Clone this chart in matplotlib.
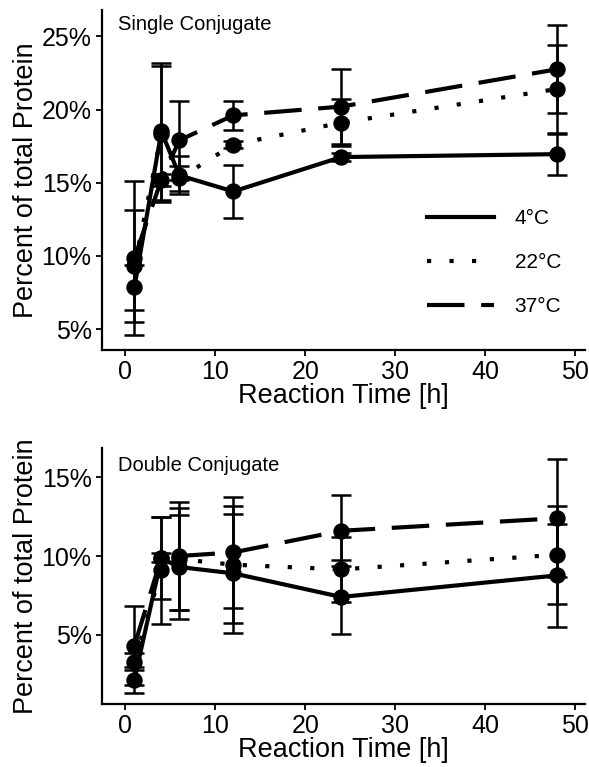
import matplotlib
matplotlib.use("Agg")
import matplotlib.pyplot as plt
from matplotlib.ticker import FuncFormatter

plt.rcParams["font.family"] = ["Liberation Sans", "DejaVu Sans"]

# reaction times (h)
time_h = [1, 4, 6, 12, 24, 48]

# single conjugate, mean and sd (% of total protein)
single_4 = [7.85, 18.5, 15.5, 14.4, 16.75, 16.95]
single_4_sd = [1.53, 4.7, 1.3, 1.8, 0.3, 1.4]
single_22 = [9.3, 18.3, 15.3, 17.6, 19.1, 21.4]
single_22_sd = [3.8, 4.65, 0.85, 0.25, 1.6, 3.0]
single_37 = [9.85, 15.2, 17.9, 19.6, 20.2, 22.75]
single_37_sd = [5.25, 0.4, 2.7, 1.0, 2.55, 3.0]

# double conjugate
double_4 = [2.15, 9.85, 9.3, 8.9, 7.4, 8.77]
double_4_sd = [0.83, 2.6, 3.3, 3.8, 2.33, 3.27]
double_22 = [3.3, 9.1, 9.8, 9.45, 9.15, 10.08]
double_22_sd = [0.55, 3.4, 3.25, 3.7, 2.07, 3.1]
double_37 = [4.3, 9.9, 10.0, 10.23, 11.6, 12.4]
double_37_sd = [2.5, 0.3, 3.45, 3.55, 2.25, 3.75]

temps = ["4°C", "22°C", "37°C"]
styles = {"4°C": "-", "22°C": (0, (1, 4.4)), "37°C": (0, (9, 4))}

fig = plt.figure(figsize=(5.89, 7.67), dpi=100)
ax1 = fig.add_axes([0.1732, 0.5437, 0.820, 0.4433])
ax2 = fig.add_axes([0.1732, 0.0821, 0.820, 0.3338])


def draw(ax, series, title, ylim, yticks):
    handles = []
    for name, (m, sd) in zip(temps, series):
        ax.errorbar(time_h, m, yerr=sd, fmt="none", ecolor="black",
                    elinewidth=1.8, capsize=7.2, capthick=1.8, zorder=2)
        ln, = ax.plot(time_h, m, color="black", lw=3, linestyle=styles[name],
                      dash_capstyle="butt", label=name, zorder=3)
        ax.plot(time_h, m, "o", color="black", ms=10.8, zorder=4)
        handles.append(ln)
    ax.set_xlim(-2.6, 51.1)
    ax.set_ylim(*ylim)
    ax.set_xticks([0, 10, 20, 30, 40, 50])
    ax.set_yticks(yticks)
    ax.yaxis.set_major_formatter(FuncFormatter(lambda v, p: f"{v:.0f}%"))
    for s in ["top", "right"]:
        ax.spines[s].set_visible(False)
    for s in ["left", "bottom"]:
        ax.spines[s].set_linewidth(1.6)
    ax.tick_params(labelsize=18, width=1.3, length=4.5, color="black", pad=3)
    ax.set_xlabel("Reaction Time [h]", fontsize=19.5, labelpad=-1)
    ax.set_ylabel("Percent of total Protein", fontsize=19.5)
    ax.yaxis.set_label_coords(-0.13, 0.5)
    ax.text(0.033, 0.985 if ax is ax1 else 0.97, title, transform=ax.transAxes,
            fontsize=14.5, ha="left", va="top")
    return handles


h = draw(ax1, [(single_4, single_4_sd), (single_22, single_22_sd),
               (single_37, single_37_sd)], "Single Conjugate",
         (3.57, 26.8), [5, 10, 15, 20, 25])
draw(ax2, [(double_4, double_4_sd), (double_22, double_22_sd),
           (double_37, double_37_sd)], "Double Conjugate",
     (0.6, 16.86), [5, 10, 15])

ax1.legend(handles=h, loc="center", bbox_to_anchor=(0.812, 0.256),
           frameon=False, fontsize=15, handlelength=3.2, handletextpad=1.0,
           labelspacing=1.2)

fig.savefig("out.png", dpi=100)
